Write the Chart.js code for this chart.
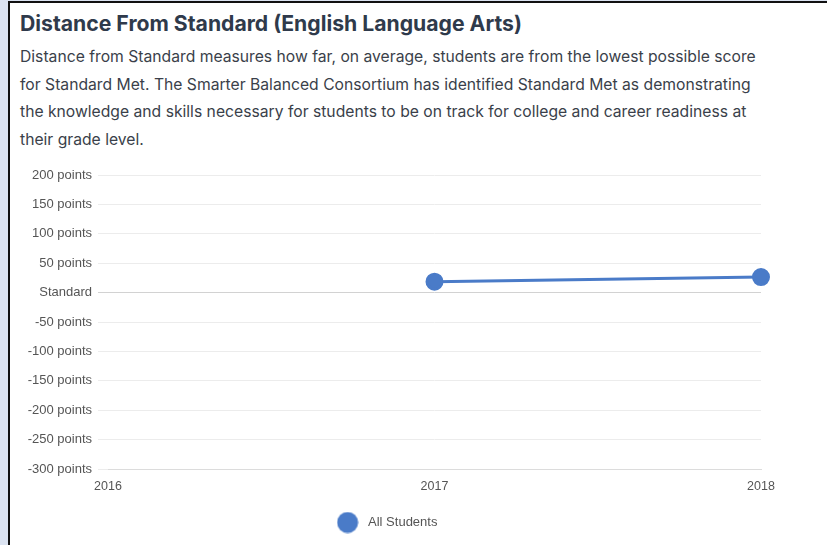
<!DOCTYPE html>
<html lang="en">
<head>
    <meta charset="UTF-8">
    <title>Distance From Standard (English Language Arts)</title>
    <script src="https://cdn.jsdelivr.net/npm/chart.js"></script>
    <style>
        html, body { margin: 0; padding: 0; background: #dbe3f1; }
        #frame {
            position: absolute; left: 8px; top: 1px; width: 819px; height: 544px;
            background: #fff; border-left: 2px solid #111; border-top: 2px solid #111;
            box-sizing: border-box;
        }
        h2 {
            position: absolute; left: 10px; top: 7px; margin: 0;
            font: bold 21.2px Inter, "Noto Sans", sans-serif; color: #2f3a4b;
        }
        p {
            position: absolute; left: 10px; top: 40px; margin: 0;
            font: 15.7px Inter, "Noto Sans", sans-serif; line-height: 27.7px; color: #3a3f4a;
            white-space: nowrap;
        }
        #wrap { position: absolute; left: 0px; top: 152px; width: 800px; height: 392px; }
    </style>
</head>
<body>
<div id="frame">
    <h2>Distance From Standard (English Language Arts)</h2>
    <p>Distance from Standard measures how far, on average, students are from the lowest possible score<br>
    for Standard Met. The Smarter Balanced Consortium has identified Standard Met as demonstrating<br>
    the knowledge and skills necessary for students to be on track for college and career readiness at<br>
    their grade level.</p>
    <div id="wrap"><canvas id="dfsChart"></canvas></div>
</div>
<script>
    const years = ['2016', '2017', '2018'];
    const allStudents = [null, 18.5, 26.5];
    const yMin = -300, yMax = 200, yStep = 50;

    const blue = '#4a7bc8';

    // bigger dot for the legend than Chart.js allows at this font size
    const legendDot = document.createElement('canvas');
    legendDot.width = 22; legendDot.height = 22;
    const dctx = legendDot.getContext('2d');
    dctx.fillStyle = blue;
    dctx.beginPath();
    dctx.arc(11, 11, 10.5, 0, Math.PI * 2);
    dctx.fill();

    Chart.defaults.font.family = '"Liberation Sans", Arial, sans-serif';
    Chart.defaults.color = '#555';

    new Chart(document.getElementById('dfsChart'), {
        type: 'line',
        data: {
            labels: years,
            datasets: [{
                label: 'All Students',
                data: allStudents,
                borderColor: blue,
                backgroundColor: blue,
                borderWidth: 3,
                pointRadius: 7.5,
                pointHoverRadius: 7.5,
                fill: false,
                tension: 0
            }]
        },
        options: {
            responsive: true,
            maintainAspectRatio: false,
            animation: false,
            layout: { padding: { top: 20, right: 49, left: 0, bottom: 8 } },
            scales: {
                x: {
                    grid: { display: false, drawTicks: false },
                    border: { display: true, color: '#dcdcdc' },
                    ticks: { padding: 10, font: { size: 12.5 } }
                },
                y: {
                    min: yMin,
                    max: yMax,
                    afterFit(scale) { scale.width = 98; },
                    ticks: {
                        stepSize: yStep,
                        padding: 6,
                        font: { size: 13 },
                        callback: v => v === 0 ? 'Standard' : v + ' points'
                    },
                    grid: {
                        tickLength: 10,
                        color: ctx => ctx.tick && ctx.tick.value === 0 ? '#d2d2d2' : '#ececec'
                    },
                    border: { display: false }
                }
            },
            plugins: {
                legend: {
                    position: 'bottom',
                    labels: {
                        usePointStyle: true,
                        pointStyle: legendDot,
                        pointStyleWidth: 28,
                        font: { size: 13 },
                        padding: 12
                    }
                },
                tooltip: { enabled: false }
            }
        }
    });
</script>
</body>
</html>
